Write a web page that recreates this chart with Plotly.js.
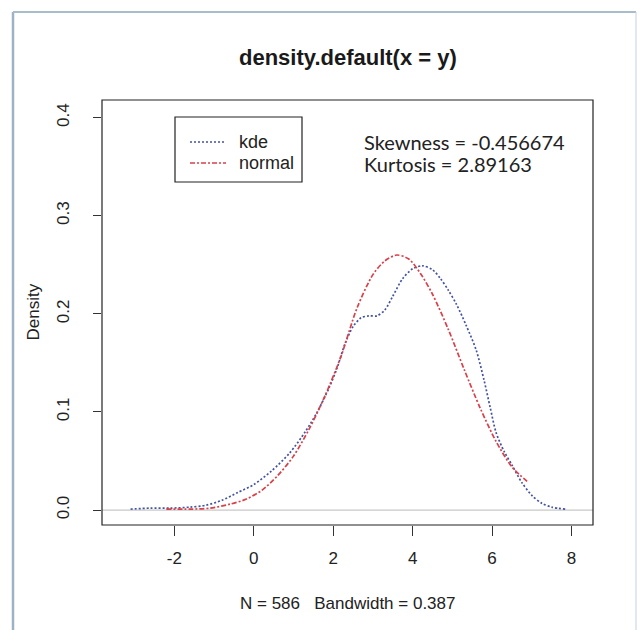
<!DOCTYPE html>
<html>
<head>
<meta charset="utf-8">
<script src="https://cdn.plot.ly/plotly-3.0.1.min.js"></script>
<style>
html,body{margin:0;padding:0;background:#fff;}
#chart{width:639px;height:630px;}
</style>
</head>
<body>
<div id="chart"></div>
<script>
// ---- data ----
const kdeX = [-3.1, -2.6, -2.1, -1.6, -1.2, -0.8, -0.4, 0.0, 0.45, 0.9, 1.3, 1.6, 1.9, 2.1, 2.3, 2.5, 2.7, 2.9, 3.1, 3.3, 3.5, 3.75, 4.0, 4.25, 4.5, 4.7, 4.9, 5.1, 5.35, 5.6, 5.8, 5.95, 6.1, 6.3, 6.5, 6.75, 7.0, 7.25, 7.5, 7.85];
const kdeY = [0.001, 0.002, 0.002, 0.003, 0.005, 0.010, 0.018, 0.026, 0.040, 0.058, 0.080, 0.100, 0.125, 0.145, 0.170, 0.187, 0.196, 0.198, 0.198, 0.204, 0.218, 0.236, 0.246, 0.249, 0.245, 0.236, 0.224, 0.210, 0.188, 0.163, 0.132, 0.105, 0.079, 0.060, 0.046, 0.028, 0.015, 0.007, 0.003, 0.001];
const normX = [-2.2, -1.6, -1.1, -0.6, -0.2, 0.2, 0.6, 1.0, 1.4, 1.8, 2.2, 2.6, 3.0, 3.3, 3.6, 3.9, 4.2, 4.5, 4.9, 5.3, 5.7, 6.1, 6.5, 6.92];
const normY = [0.001, 0.001, 0.002, 0.006, 0.011, 0.020, 0.035, 0.055, 0.083, 0.117, 0.157, 0.206, 0.240, 0.254, 0.260, 0.256, 0.241, 0.220, 0.184, 0.143, 0.104, 0.070, 0.044, 0.028];
const xTicks = [-2, 0, 2, 4, 6, 8];
const yTicks = [0.0, 0.1, 0.2, 0.3, 0.4];
const yTickText = ["0.0", "0.1", "0.2", "0.3", "0.4"];
const seriesNames = ["kde", "normal"];
const titleText = "density.default(x = y)";
const subText = "N = 586   Bandwidth = 0.387";
const statLines = ["Skewness = -0.456674", "Kurtosis = 2.89163"];

const font = "Liberation Sans, Arial, sans-serif";
const kdeLine = {color: "#44539f", width: 1.7, dash: "2px,2px"};
const normLine = {color: "#d8404a", width: 1.7, dash: "5px,2px,2px,2px"};

// plot area in pixels: left 102, right 593, top 100, bottom 525
const PL = 102, PW = 491, PB = 525, PH = 425;
const px = v => (v - PL) / PW;
const py = v => (PB - v) / PH;

const traces = [
  {x: kdeX, y: kdeY, type: "scatter", mode: "lines", name: seriesNames[0],
   line: Object.assign({shape: "spline", smoothing: 0.8}, kdeLine)},
  {x: normX, y: normY, type: "scatter", mode: "lines", name: seriesNames[1],
   line: Object.assign({shape: "spline", smoothing: 0.8}, normLine)}
];

const layout = {
  width: 639, height: 630,
  margin: {l: PL, r: 639 - PL - PW, t: 630 - PB - PH, b: 630 - PB},
  paper_bgcolor: "#ffffff", plot_bgcolor: "#ffffff",
  font: {family: font, size: 17, color: "#222"},
  showlegend: false,
  xaxis: {range: [-3.82, 8.54], tickvals: xTicks, ticktext: xTicks.map(String),
          ticks: "outside", ticklen: 10, tickcolor: "#333", tickwidth: 1,
          showgrid: false, zeroline: false, showline: false,
          ticklabelstandoff: 8, tickfont: {family: font, size: 17, color: "#222"}},
  yaxis: {range: [-0.0152, 0.418], tickvals: yTicks, ticktext: yTickText,
          ticks: "outside", ticklen: 8, tickcolor: "#333", tickwidth: 1,
          tickangle: -90, showgrid: false, zeroline: false, showline: false,
          ticklabelstandoff: 17, tickfont: {family: font, size: 17, color: "#222"}},
  shapes: [
    {type: "rect", xref: "paper", yref: "paper", x0: 0, x1: 1, y0: 0, y1: 1,
     line: {color: "#222", width: 1.2}},
    {type: "line", xref: "paper", yref: "y", x0: 0, x1: 1, y0: 0, y1: 0,
     line: {color: "#bbbbbb", width: 1}, layer: "below"},
    // legend box and samples
    {type: "rect", xref: "paper", yref: "paper", x0: px(175), x1: px(302), y0: py(117), y1: py(182),
     line: {color: "#222", width: 1.2}, fillcolor: "#fff"},
    {type: "line", xref: "paper", yref: "paper", x0: px(190), x1: px(226), y0: py(142), y1: py(142),
     line: kdeLine},
    {type: "line", xref: "paper", yref: "paper", x0: px(190), x1: px(226), y0: py(163), y1: py(163),
     line: normLine},
    // outer frame of the screenshot
    {type: "line", xref: "paper", yref: "paper", x0: px(13), x1: px(13), y0: py(12), y1: py(640),
     line: {color: "#9db3c4", width: 2.5}},
    {type: "line", xref: "paper", yref: "paper", x0: px(13), x1: px(636), y0: py(12), y1: py(12),
     line: {color: "#a8bccb", width: 2}},
    {type: "line", xref: "paper", yref: "paper", x0: px(636), x1: px(636), y0: py(12), y1: py(640),
     line: {color: "#c6d4de", width: 1}}
  ],
  annotations: [
    {text: "<b>" + titleText + "</b>", xref: "paper", yref: "paper", x: 0.5, y: py(58),
     xanchor: "center", yanchor: "middle", showarrow: false,
     font: {family: font, size: 22, color: "#1a1a1a"}},
    {text: subText, xref: "paper", yref: "paper", x: 0.5, y: py(603),
     xanchor: "center", yanchor: "middle", showarrow: false,
     font: {family: font, size: 17, color: "#222"}},
    {text: "Density", xref: "paper", yref: "paper", x: px(33), y: 0.5, textangle: -90,
     xanchor: "center", yanchor: "middle", showarrow: false,
     font: {family: font, size: 17, color: "#222"}},
    {text: seriesNames[0], xref: "paper", yref: "paper", x: px(237), y: py(142),
     xanchor: "left", yanchor: "middle", showarrow: false,
     font: {family: font, size: 18, color: "#222"}},
    {text: seriesNames[1], xref: "paper", yref: "paper", x: px(237), y: py(163),
     xanchor: "left", yanchor: "middle", showarrow: false,
     font: {family: font, size: 18, color: "#222"}},
    {text: statLines[0], xref: "paper", yref: "paper", x: px(362), y: py(142),
     xanchor: "left", yanchor: "middle", showarrow: false,
     font: {family: "Lato, sans-serif", size: 20, color: "#222"}},
    {text: statLines[1], xref: "paper", yref: "paper", x: px(362), y: py(164),
     xanchor: "left", yanchor: "middle", showarrow: false,
     font: {family: "Lato, sans-serif", size: 20, color: "#222"}}
  ]
};

Plotly.newPlot("chart", traces, layout, {displayModeBar: false, staticPlot: true});
</script>
</body>
</html>
